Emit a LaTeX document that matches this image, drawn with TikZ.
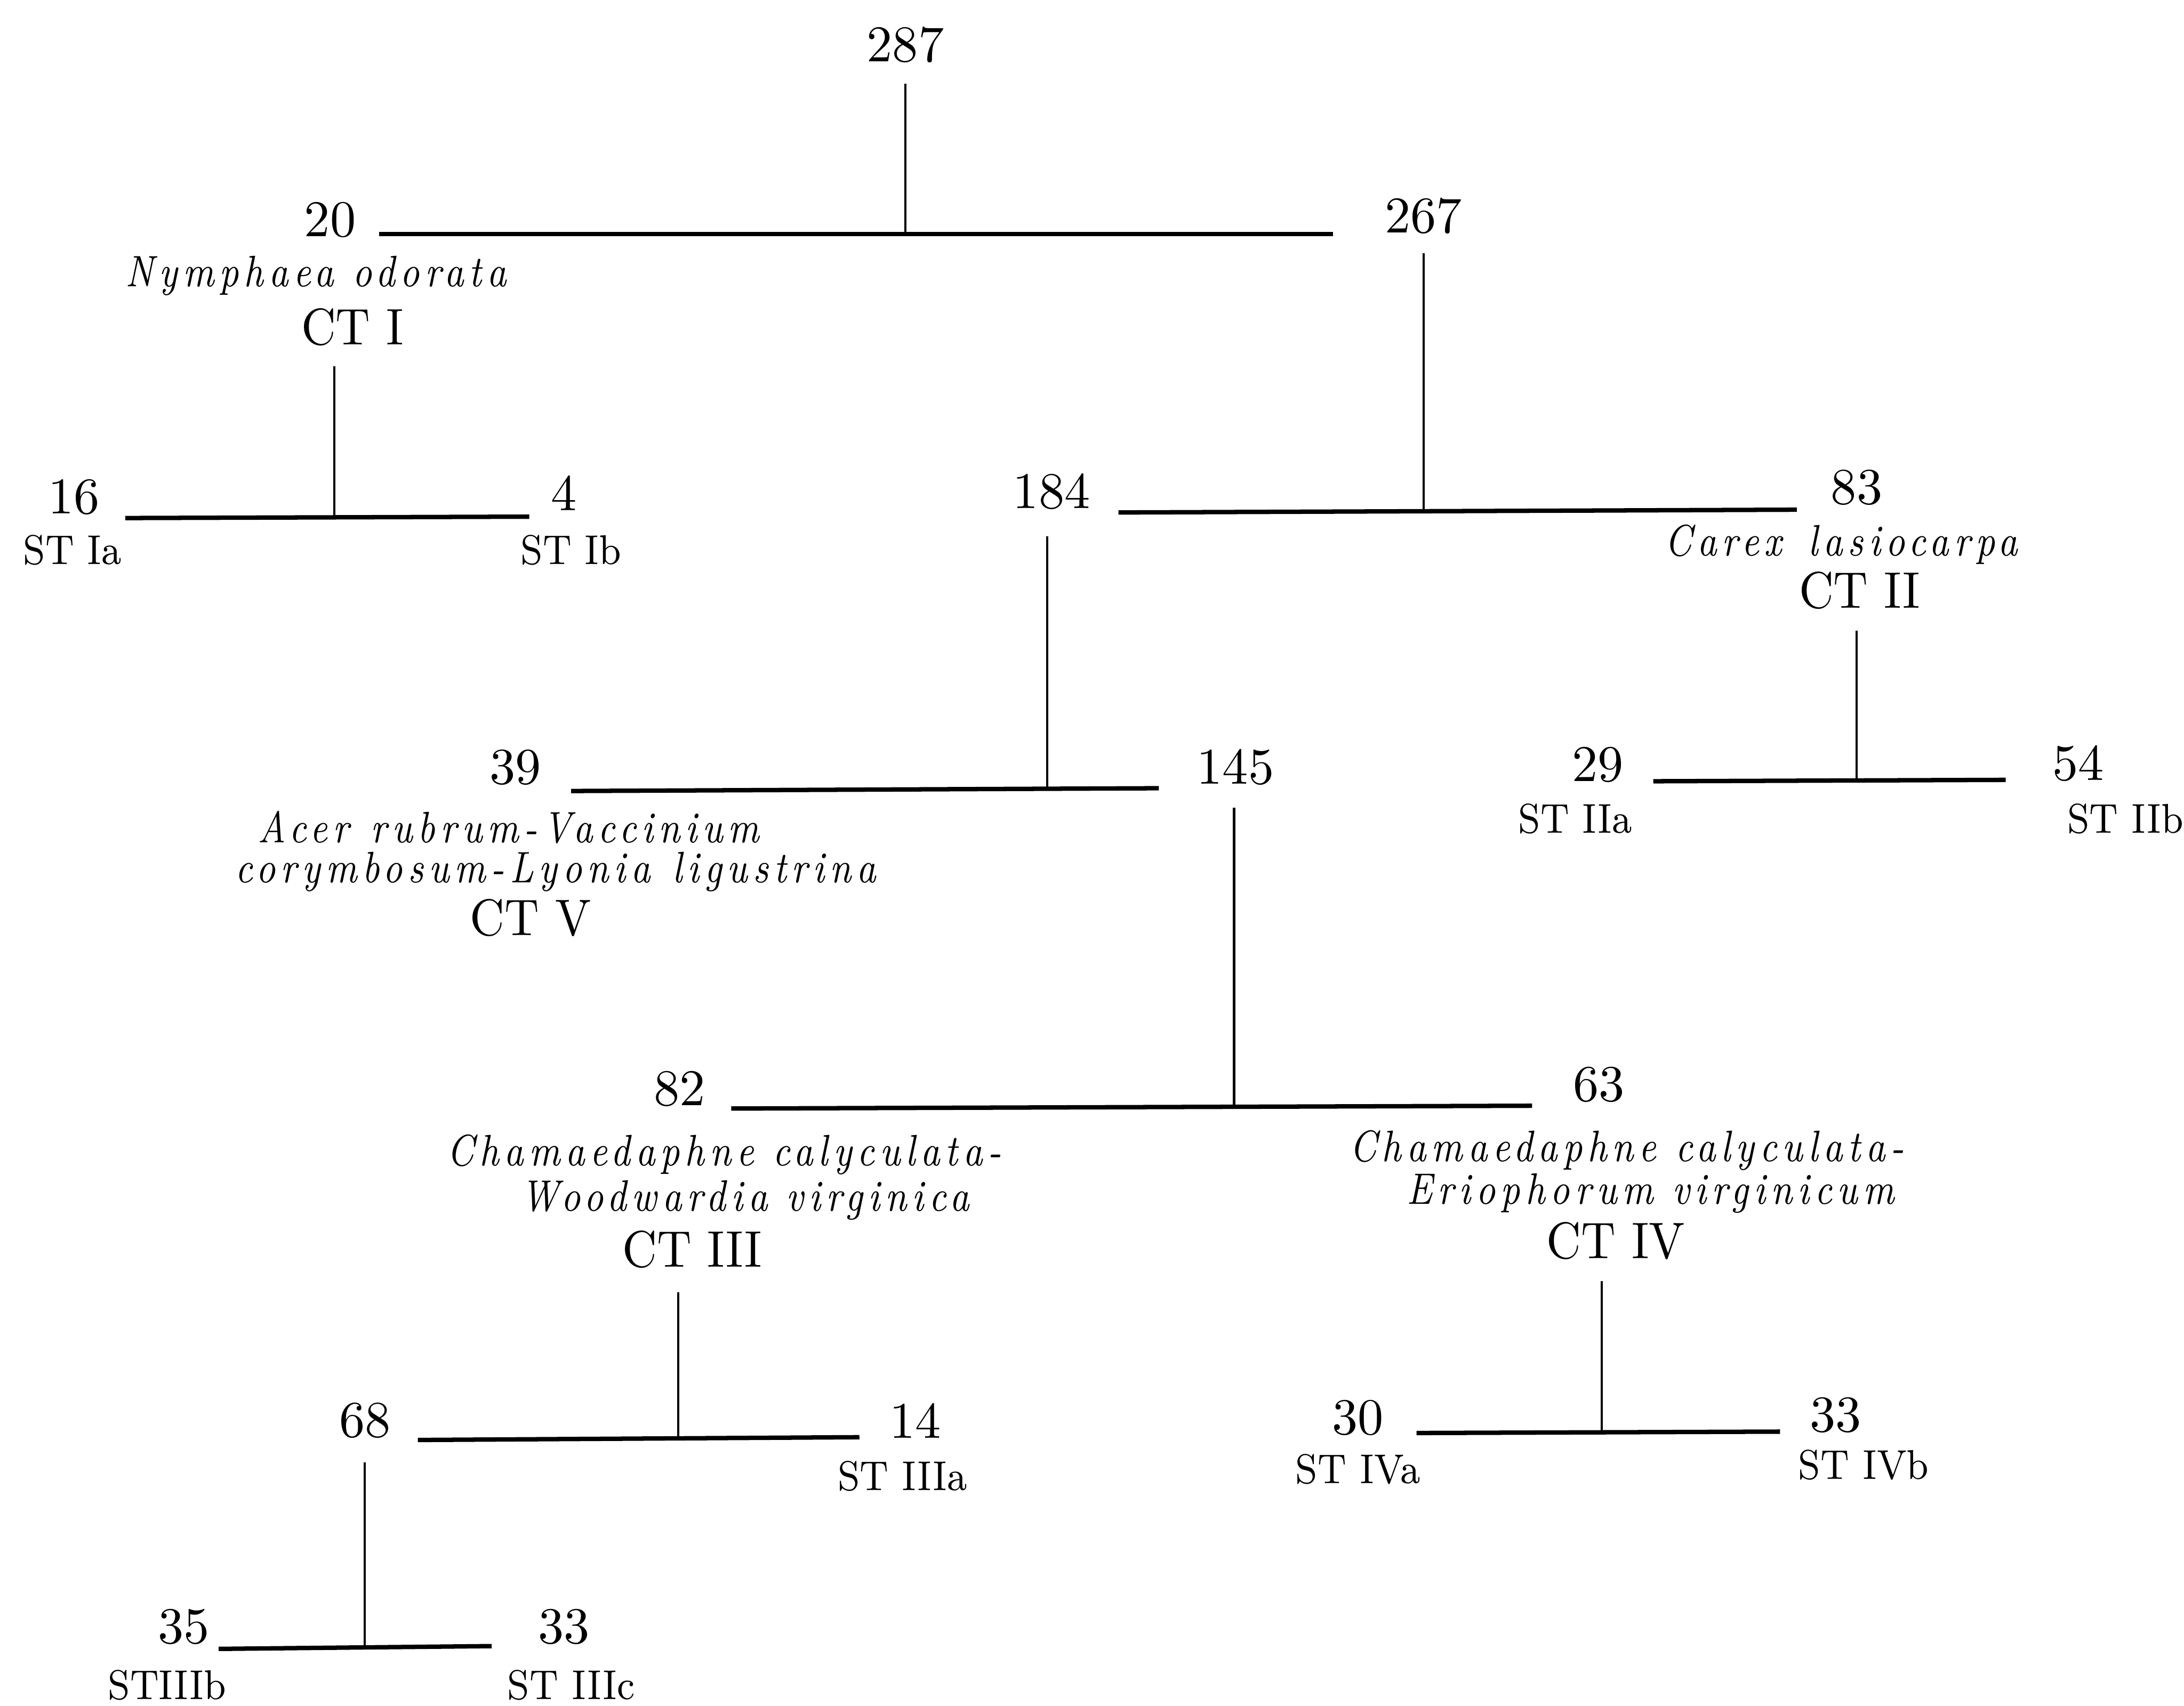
\documentclass[tikz,border=0pt]{standalone}
\usepackage{fontspec}
\setmainfont{Latin Modern Roman}
\begin{document}
\begin{tikzpicture}[x=0.01cm,y=-0.01cm,
  num/.style={font=\fontsize{10.5}{12}\selectfont, inner sep=0pt},
  ctl/.style={font=\fontsize{10.5}{12}\selectfont\addfontfeatures{FakeStretch=0.93}, inner sep=0pt},
  stl/.style={font=\fontsize{8.5}{10}\selectfont\addfontfeatures{FakeStretch=0.9}, inner sep=0pt},
  spl/.style={font=\fontsize{9}{10}\selectfont\itshape\addfontfeatures{FakeStretch=0.84,LetterSpace=12}, inner sep=0pt},
  bar/.style={line width=0.9pt},
  stem/.style={line width=0.45pt}]
\useasboundingbox (0,0) rectangle (1568,1225);
% labels
\node[num] (n287) at (650,32) {287};
\node[num] (n20) at (237,158) {20};
\node[num] (n267) at (1022,155) {267};
\node[spl] (sp1) at (227,198) {Nymphaea odorata};
\node[ctl] (ct1) at (253,235) {CT I};
\node[num] (n16) at (53,357) {16};
\node[num] (n4) at (405,354) {4};
\node[stl] (st1a) at (52,395) {ST Ia};
\node[stl] (st1b) at (410,395) {ST Ib};
\node[num] (n184) at (755,353) {184};
\node[num] (n83) at (1333,350) {83};
\node[spl] (sp2) at (1322,391) {Carex\hspace{0.6em}lasiocarpa};
\node[ctl] (ct2) at (1335,424) {CT II};
\node[num] (n29) at (1147,549) {29};
\node[num] (n54) at (1492,548) {54};
\node[stl] (st2a) at (1131,588) {ST IIa};
\node[stl] (st2b) at (1526,588) {ST IIb};
\node[num] (n39) at (370,551) {39};
\node[num] (n145) at (887,551) {145};
\node[spl] (sp5a) at (365,594) {Acer\hspace{0.5em}rubrum-Vaccinium};
\node[spl] (sp5b) at (399,626) {corymbosum-Lyonia\hspace{0.5em}ligustrina};
\node[ctl] (ct5) at (381,659) {CT V};
\node[num] (n82) at (488,782) {82};
\node[num] (n63) at (1148,779) {63};
\node[spl] (sp3a) at (520,829) {Chamaedaphne calyculata-};
\node[spl] (sp3b) at (535,862) {Woodwardia virginica};
\node[ctl] (ct3) at (497,897) {CT III};
\node[spl] (sp4a) at (1168,826) {Chamaedaphne calyculata-};
\node[spl] (sp4b) at (1185,857) {Eriophorum virginicum};
\node[ctl] (ct4) at (1160,891) {CT IV};
\node[num] (n68) at (262,1020) {68};
\node[num] (n14) at (657,1020) {14};
\node[stl] (st3a) at (648,1060) {ST IIIa};
\node[num] (n30) at (975,1018) {30};
\node[num] (n33a) at (1318,1016) {33};
\node[stl] (st4a) at (975,1055) {ST IVa};
\node[stl] (st4b) at (1338,1052) {ST IVb};
\node[num] (n35) at (132,1168) {35};
\node[num] (n33b) at (405,1168) {33};
\node[stl] (st3b) at (120,1210) {STIIIb};
\node[stl] (st3c) at (410,1210) {ST IIIc};
% coordinates
\coordinate (a1) at (650,60);   \coordinate (j1) at (650,168);
\coordinate (l1) at (272,168);  \coordinate (r1) at (957,168);
\coordinate (a2) at (1022,182); \coordinate (j2) at (1022,367);
\coordinate (l2) at (803,368);  \coordinate (r2) at (1290,366);
\coordinate (a3) at (240,263);  \coordinate (j3) at (240,372);
\coordinate (l3) at (90,372);   \coordinate (r3) at (380,371);
\coordinate (a4) at (752,385);  \coordinate (j4) at (752,567);
\coordinate (l4) at (410,568);  \coordinate (r4) at (832,566);
\coordinate (a5) at (1333,453); \coordinate (j5) at (1333,560);
\coordinate (l5) at (1187,561); \coordinate (r5) at (1440,560);
\coordinate (a6) at (886,580);  \coordinate (j6) at (886,795);
\coordinate (l6) at (525,796);  \coordinate (r6) at (1100,794);
\coordinate (a7) at (487,928);  \coordinate (j7) at (487,1033);
\coordinate (l7) at (300,1034); \coordinate (r7) at (617,1032);
\coordinate (a8) at (1150,920); \coordinate (j8) at (1150,1028);
\coordinate (l8) at (1017,1029);\coordinate (r8) at (1278,1028);
\coordinate (a9) at (262,1050); \coordinate (j9) at (262,1183);
\coordinate (l9) at (157,1184); \coordinate (r9) at (353,1182);
% connectors
\foreach \i in {1,...,9}{
  \draw[stem] (a\i) -- (j\i);
  \draw[bar] (l\i) -- (r\i);
}
\end{tikzpicture}
\end{document}
